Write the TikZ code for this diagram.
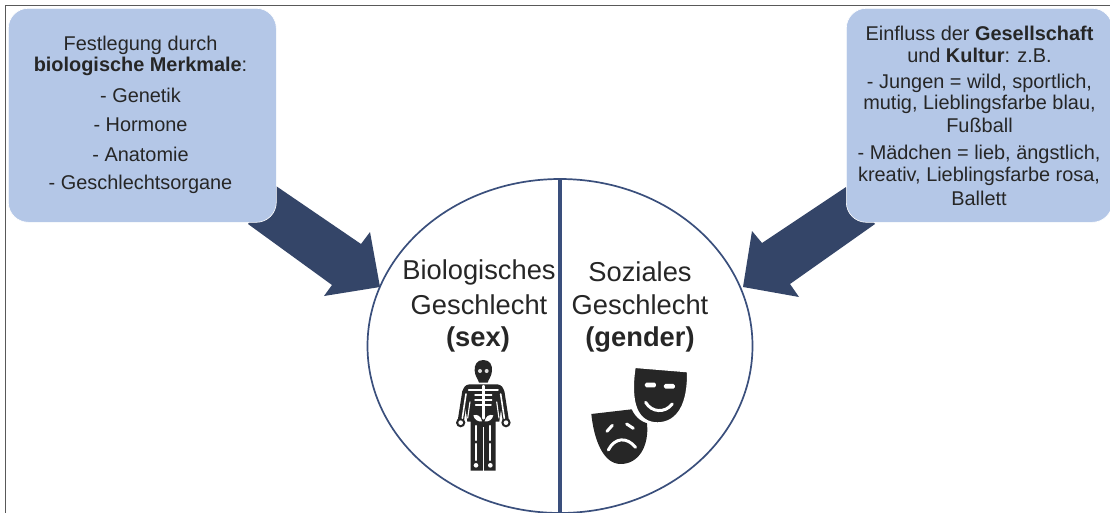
\documentclass[tikz,border=0pt]{standalone}
\usepackage{fontspec}
\usetikzlibrary{shapes.geometric}
\setmainfont{Liberation Sans}
\definecolor{boxblue}{HTML}{B4C7E7}
\definecolor{navy}{HTML}{344568}
\definecolor{ringblue}{HTML}{3A4F7C}
\definecolor{ink}{HTML}{262626}
\tikzset{
  infobox/.style={fill=boxblue,draw=white,line width=0.6pt,rounded corners=20pt,minimum width=268pt,minimum height=214pt,inner sep=0pt,text=ink,anchor=north west},
  infotext/.style={text=ink,align=center,font=\fontsize{19.9}{24}\selectfont,inner sep=0pt},
  bigtext/.style={text=ink,align=center,font=\fontsize{27.3}{33}\selectfont,inner sep=0pt},
  bigarrow/.style={fill=navy,draw=none},
  icondark/.style={fill=ink,draw=none},
  bone/.style={draw=white,line width=1.5pt,line cap=round},
  darkline/.style={draw=ink,line cap=round},
}
\begin{document}
\begin{tikzpicture}[x=1pt,y=-1pt]
\useasboundingbox (0,0) rectangle (1110,513);
\fill[white] (0,0) rectangle (1110,513);
% frame
\draw[line width=1pt,draw=black!65] (5.5,513) -- (5.5,6) -- (1110,6);
% circle and divider
\node[ellipse,draw=ringblue,line width=1.7pt,minimum width=385pt,minimum height=334pt,inner sep=0pt] (ring) at (560,346) {};
\draw[draw=ringblue,line width=3.6pt] (ring.north) -- (ring.south);
% arrows
\fill[bigarrow] (276,186) -- (361,244) -- (370,232) -- (380,287) -- (324,296) -- (332,285) -- (248,224) -- cycle;
\fill[bigarrow] (846,187) -- (762,243) -- (752,231) -- (743,287) -- (799,297) -- (790,284) -- (875,224) -- cycle;
% boxes
\node[infobox] (leftbox) at (8,8) {};
\node[infobox,minimum width=266pt] (rightbox) at (846,8) {};
% left text
\node[infotext] (l1) at (140.5,45) {Festlegung durch};
\node[infotext] (l2) at (140.5,66) {\textbf{biologische Merkmale}:};
\node[infotext] (l3) at (140.5,95) {- Genetik};
\node[infotext] (l4) at (140.5,124.5) {- Hormone};
\node[infotext] (l5) at (140.5,154) {- Anatomie};
\node[infotext] (l6) at (140.5,184) {- Geschlechtsorgane};
% right text
\node[infotext] (r1) at (979.5,33) {Einfluss der \textbf{Gesellschaft}};
\node[infotext] (r2) at (979.5,55) {und \textbf{Kultur}: z.B.};
\node[infotext] (r3) at (979.5,83) {- Jungen = wild, sportlich,};
\node[infotext] (r4) at (979.5,104) {mutig, Lieblingsfarbe blau,};
\node[infotext] (r5) at (979.5,125) {Fußball};
\node[infotext] (r6) at (979,154) {- Mädchen = lieb, ängstlich,};
\node[infotext] (r7) at (979,176) {kreativ, Lieblingsfarbe rosa,};
\node[infotext] (r8) at (979,198) {Ballett};
% circle text
\node[bigtext] (s1) at (479,272) {Biologisches};
\node[bigtext] (s2) at (479,305) {Geschlecht};
\node[bigtext] (s3) at (478,339) {\textbf{(sex)}};
\node[bigtext] (g1) at (640,272) {Soziales};
\node[bigtext] (g2) at (640,305) {Geschlecht};
\node[bigtext] (g3) at (640,339) {\textbf{(gender)}};
% skeleton (coordinates from a 3x crop)
\begin{scope}[shift={(430,350)},x=0.3333pt,y=-0.3333pt]
  \fill[icondark] (160,30) .. controls (140,30) and (133,45) .. (134,62) .. controls (135,80) and (145,88) .. (147,98) -- (173,98) .. controls (175,88) and (185,80) .. (186,62) .. controls (187,45) and (180,30) .. (160,30) -- cycle;
  \fill[icondark] (118,103) -- (202,103) .. controls (215,105) and (220,112) .. (222,125) -- (217,150) -- (208,215) -- (197,215) -- (197,362) -- (122,362) -- (122,215) -- (112,215) -- (103,150) -- (98,125) .. controls (100,112) and (105,105) .. (118,103) -- cycle;
  \draw[darkline,line width=6.2pt] (106,125) -- (92,215);
  \draw[darkline,line width=6.2pt] (214,125) -- (228,215);
  \fill[icondark] (92,218) circle (14);
  \fill[icondark] (228,218) circle (14);
  % gaps
  \draw[draw=white,line width=1.1pt] (120,155) -- (113,205);
  \draw[draw=white,line width=1.1pt] (200,155) -- (207,205);
  \draw[draw=white,line width=1.4pt] (160,232) -- (160,362);
  % eyes and bones
  \fill[white!85!ink] (150,63) circle (6);
  \fill[white!85!ink] (170,63) circle (6);
  \draw[bone] (116,120) -- (204,120);
  \draw[bone,line width=2.4pt] (160,108) -- (160,205);
  \draw[bone,line width=1.5pt] (135,135) -- (185,135);
  \draw[bone,line width=1.5pt] (135,150) -- (185,150);
  \draw[bone,line width=1.5pt] (137,165) -- (183,165);
  \fill[white] (130,196) .. controls (142,192) and (153,198) .. (156,214) .. controls (145,216) and (133,210) .. (130,196) -- cycle;
  \fill[white] (190,196) .. controls (178,192) and (167,198) .. (164,214) .. controls (175,216) and (187,210) .. (190,196) -- cycle;
  \draw[bone,line width=1.6pt] (108,132) -- (97,205);
  \draw[bone,line width=1.6pt] (212,132) -- (223,205);
  \fill[white] (92,218) circle (7);
  \fill[white] (228,218) circle (7);
  \draw[bone,line width=2.2pt] (138,228) -- (138,270);
  \draw[bone,line width=2.2pt] (138,282) -- (138,330);
  \draw[bone,line width=2.2pt] (181,228) -- (181,270);
  \draw[bone,line width=2.2pt] (181,282) -- (181,330);
  \fill[white] (138,346) circle (7);
  \fill[white] (181,346) circle (7);
\end{scope}
% masks
\begin{scope}[shift={(430,350)},x=0.3333pt,y=-0.3333pt]
  \fill[icondark] (484,192) -- (605,178) .. controls (618,205) and (635,215) .. (651,220) .. controls (658,290) and (625,342) .. (572,342) .. controls (520,342) and (492,270) .. (484,192) -- cycle;
  \fill[icondark,draw=white,line width=1.4pt] (615,52) -- (773,65) .. controls (775,160) and (745,218) .. (682,219) .. controls (625,218) and (598,165) .. (615,52) -- cycle;
  \fill[white,rounded corners=1.5pt] (645,98) rectangle (678,112);
  \fill[white,rounded corners=1.5pt] (702,102) rectangle (735,116);
  \draw[draw=white,line width=3pt,line cap=round] (647,157) .. controls (665,188) and (705,190) .. (727,162);
  \draw[draw=white,line width=3pt,line cap=round] (531,244) -- (547,226);
  \draw[draw=white,line width=3pt,line cap=round] (590,222) -- (610,235);
  \draw[draw=white,line width=3pt,line cap=round] (535,300) .. controls (555,262) and (590,260) .. (617,292);
\end{scope}
\end{tikzpicture}
\end{document}
